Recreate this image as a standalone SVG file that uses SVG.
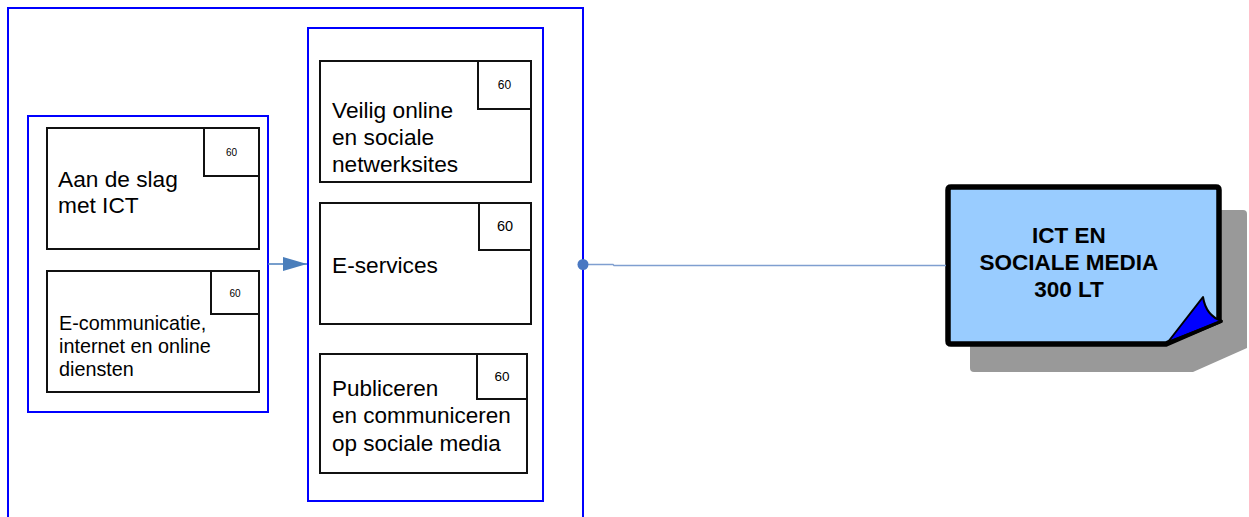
<svg xmlns="http://www.w3.org/2000/svg" width="1249" height="517" viewBox="0 0 1249 517">
<style>
.grp{fill:none;stroke:#0000FF;stroke-width:2}
.box{fill:#FFFFFF;stroke:#111111;stroke-width:2}
.t{font-family:"Liberation Sans",Arial,sans-serif;fill:#000000}
.n{font-family:"Liberation Sans",Arial,sans-serif;fill:#000000;text-anchor:middle}
.b{font-family:"Liberation Sans",Arial,sans-serif;font-weight:bold;font-size:22.5px;fill:#000000;text-anchor:middle}
</style>
<defs>
<marker id="ah" viewBox="0 0 10 10" refX="10" refY="5" markerWidth="24" markerHeight="14" markerUnits="userSpaceOnUse" orient="auto" preserveAspectRatio="none">
<path d="M0,0 L10,5 L0,10 Z" fill="#4A7EBB"/>
</marker>
</defs>
<rect width="1249" height="517" fill="#FFFFFF"/>
<g id="outer-group"><rect class="grp" x="8" y="8" width="575" height="520"/></g>
<g id="left-group"><rect class="grp" x="28" y="116" width="240" height="296"/></g>
<g id="middle-group"><rect class="grp" x="308" y="28" width="235" height="473"/></g>
<g id="node-aan">
<rect class="box" x="47" y="128" width="212" height="121"/>
<rect class="box" x="204" y="128" width="55" height="48"/>
<text class="n" x="231.5" y="156" font-size="10">60</text>
<text class="t" font-size="22.7"><tspan x="58" y="187">Aan de slag</tspan><tspan x="58" y="213">met ICT</tspan></text>
</g>
<g id="node-ecomm">
<rect class="box" x="47" y="271" width="212" height="121"/>
<rect class="box" x="211" y="271" width="48" height="43"/>
<text class="n" x="235" y="297" font-size="10">60</text>
<text class="t" font-size="19.8"><tspan x="59" y="330">E-communicatie,</tspan><tspan x="59" y="353">internet en online</tspan><tspan x="59" y="376">diensten</tspan></text>
</g>
<g id="node-veilig">
<rect class="box" x="320" y="61" width="211" height="121"/>
<rect class="box" x="478" y="61" width="53" height="48"/>
<text class="n" x="504.5" y="89" font-size="12">60</text>
<text class="t" font-size="22.7"><tspan x="332" y="118">Veilig online</tspan><tspan x="332" y="145">en sociale</tspan><tspan x="332" y="172">netwerksites</tspan></text>
</g>
<g id="node-eservices">
<rect class="box" x="320" y="203" width="211" height="121"/>
<rect class="box" x="479" y="203" width="52" height="47"/>
<text class="n" x="505" y="231" font-size="14.5">60</text>
<text class="t" font-size="22.7"><tspan x="332" y="273">E-services</tspan></text>
</g>
<g id="node-publiceren">
<rect class="box" x="320" y="354" width="207" height="119"/>
<rect class="box" x="477" y="354" width="50" height="45"/>
<text class="n" x="502" y="381" font-size="13.5">60</text>
<text class="t" font-size="22.5"><tspan x="332" y="396">Publiceren</tspan><tspan x="332" y="423">en communiceren</tspan><tspan x="332" y="451">op sociale media</tspan></text>
</g>
<g id="node-ict">
<path d="M970,214 Q970,210 974,210 L1243,210 Q1247,210 1247,214 L1247,348 L1193,372 L974,372 Q970,372 970,368 Z" fill="#999999"/>
<path d="M948,190 Q948,187 951,187 L1216,187 Q1219,187 1219,190 L1219,321 L1166,344 L951,344 Q948,344 948,341 Z" fill="#99CCFF" stroke="#000000" stroke-width="5.5" stroke-linejoin="round"/>
<path d="M1168,342 L1203,297 Q1206,316 1222,321 Z" fill="#0000FF" stroke="#000000" stroke-width="2" stroke-linejoin="round"/>
<line x1="1166" y1="344" x2="1222" y2="321" stroke="#000000" stroke-width="3.5"/>
<text class="b"><tspan x="1069" y="243">ICT EN</tspan><tspan x="1069" y="270">SOCIALE MEDIA</tspan><tspan x="1069" y="297">300 LT</tspan></text>
</g>
<g id="connectors">
<line x1="268" y1="264" x2="307" y2="264" stroke="#4A7EBB" stroke-width="1.5" marker-end="url(#ah)"/>
<polyline points="583,264.5 613,264.5 614,265.5 946,265.5" fill="none" stroke="#7F9FD0" stroke-width="1.5"/>
<circle cx="583" cy="264.5" r="5.5" fill="#4A78C2"/>
</g>
</svg>
